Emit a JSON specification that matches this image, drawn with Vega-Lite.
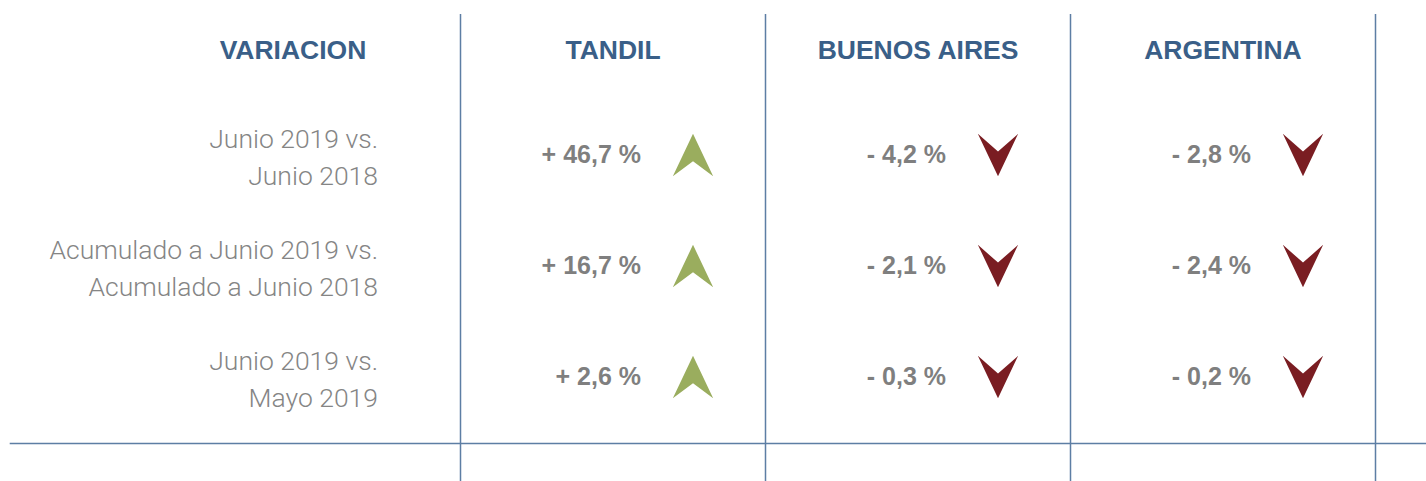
{
  "$schema": "https://vega.github.io/schema/vega-lite/v6.json",
  "width": 1426,
  "height": 481,
  "autosize": "none",
  "padding": 0,
  "background": "white",
  "config": {"view": {"stroke": null}},
  "datasets": {
    "encabezados": [
      {"col": 0, "fila": 0, "texto": "VARIACION"},
      {"col": 1, "fila": 0, "texto": "TANDIL"},
      {"col": 2, "fila": 0, "texto": "BUENOS AIRES"},
      {"col": 3, "fila": 0, "texto": "ARGENTINA"}
    ],
    "etiquetas": [
      {"col": 0, "fila": 1, "texto": "Junio 2019 vs.\nJunio 2018"},
      {"col": 0, "fila": 2, "texto": "Acumulado a Junio 2019 vs.\nAcumulado a Junio 2018"},
      {"col": 0, "fila": 3, "texto": "Junio 2019 vs.\nMayo 2019"}
    ],
    "valores": [
      {"col": 1, "fila": 1, "valor": 46.7, "texto": "+ 46,7 %", "tendencia": "sube"},
      {"col": 2, "fila": 1, "valor": -4.2, "texto": "- 4,2 %", "tendencia": "baja"},
      {"col": 3, "fila": 1, "valor": -2.8, "texto": "- 2,8 %", "tendencia": "baja"},
      {"col": 1, "fila": 2, "valor": 16.7, "texto": "+ 16,7 %", "tendencia": "sube"},
      {"col": 2, "fila": 2, "valor": -2.1, "texto": "- 2,1 %", "tendencia": "baja"},
      {"col": 3, "fila": 2, "valor": -2.4, "texto": "- 2,4 %", "tendencia": "baja"},
      {"col": 1, "fila": 3, "valor": 2.6, "texto": "+ 2,6 %", "tendencia": "sube"},
      {"col": 2, "fila": 3, "valor": -0.3, "texto": "- 0,3 %", "tendencia": "baja"},
      {"col": 3, "fila": 3, "valor": -0.2, "texto": "- 0,2 %", "tendencia": "baja"}
    ],
    "divisores": [
      {"limite": 0.5}, {"limite": 1.5}, {"limite": 2.5}, {"limite": 3.5}
    ]
  },
  "layer": [
    {
      "data": {"name": "divisores"},
      "mark": {"type": "rule", "color": "#5d7ea4", "strokeWidth": 1.5},
      "encoding": {
        "x": {"field": "limite", "type": "quantitative", "scale": {"domain": [0, 3], "range": [308, 1223]}, "axis": null},
        "y": {"datum": -0.27, "type": "quantitative", "scale": {"domain": [1, 3], "range": [155, 377]}, "axis": null},
        "y2": {"datum": 3.95}
      }
    },
    {
      "data": {"values": [{"linea": "base"}]},
      "mark": {"type": "rule", "color": "#5d7ea4", "strokeWidth": 1.5},
      "encoding": {
        "x": {"datum": -0.978, "type": "quantitative", "scale": {"domain": [0, 3], "range": [308, 1223]}, "axis": null},
        "x2": {"datum": 3.7},
        "y": {"datum": 3.6, "type": "quantitative", "scale": {"domain": [1, 3], "range": [155, 377]}, "axis": null}
      }
    },
    {
      "data": {"name": "encabezados"},
      "transform": [{"filter": "datum.col > 0"}],
      "mark": {"type": "text", "font": "Liberation Sans", "fontWeight": "bold", "fontSize": 26.5, "color": "#3a5f88", "align": "center", "baseline": "middle", "dy": 7},
      "encoding": {
        "x": {"field": "col", "type": "quantitative", "scale": {"domain": [0, 3], "range": [308, 1223]}, "axis": null},
        "y": {"field": "fila", "type": "quantitative", "scale": {"domain": [1, 3], "range": [155, 377]}, "axis": null},
        "text": {"field": "texto"}
      }
    },
    {
      "data": {"name": "encabezados"},
      "transform": [{"filter": "datum.col === 0"}],
      "mark": {"type": "text", "font": "Liberation Sans", "fontWeight": "bold", "fontSize": 26.5, "color": "#3a5f88", "align": "center", "baseline": "middle", "dy": 7, "dx": -15},
      "encoding": {
        "x": {"field": "col", "type": "quantitative", "scale": {"domain": [0, 3], "range": [308, 1223]}, "axis": null},
        "y": {"field": "fila", "type": "quantitative", "scale": {"domain": [1, 3], "range": [155, 377]}, "axis": null},
        "text": {"field": "texto"}
      }
    },
    {
      "data": {"name": "etiquetas"},
      "mark": {"type": "text", "font": "Roboto", "fontWeight": 300, "fontSize": 26.5, "color": "#858585", "align": "right", "baseline": "middle", "lineBreak": "\n", "lineHeight": 37, "dx": 70, "dy": -15},
      "encoding": {
        "x": {"field": "col", "type": "quantitative", "scale": {"domain": [0, 3], "range": [308, 1223]}, "axis": null},
        "y": {"field": "fila", "type": "quantitative", "scale": {"domain": [1, 3], "range": [155, 377]}, "axis": null},
        "text": {"field": "texto"}
      }
    },
    {
      "data": {"name": "valores"},
      "mark": {"type": "text", "font": "Liberation Sans", "fontWeight": "bold", "fontSize": 25, "letterSpacing": 1.6, "color": "#7f7f7f", "align": "right", "baseline": "middle", "dx": 28},
      "encoding": {
        "x": {"field": "col", "type": "quantitative", "scale": {"domain": [0, 3], "range": [308, 1223]}, "axis": null},
        "y": {"field": "fila", "type": "quantitative", "scale": {"domain": [1, 3], "range": [155, 377]}, "axis": null},
        "text": {"field": "texto"}
      }
    },
    {
      "data": {"name": "valores"},
      "mark": {"type": "point", "filled": true, "opacity": 1, "size": 1800, "xOffset": 80},
      "encoding": {
        "x": {"field": "col", "type": "quantitative", "scale": {"domain": [0, 3], "range": [308, 1223]}, "axis": null},
        "y": {"field": "fila", "type": "quantitative", "scale": {"domain": [1, 3], "range": [155, 377]}, "axis": null},
        "shape": {"field": "tendencia", "type": "nominal", "scale": {"domain": ["sube", "baja"], "range": ["M0,-1L0.95,1L0,0.29L-0.95,1Z", "M-0.95,-1L0,-0.16L0.95,-1L0,1Z"]}, "legend": null},
        "color": {"field": "tendencia", "type": "nominal", "scale": {"domain": ["sube", "baja"], "range": ["#9aad5e", "#7a1d22"]}, "legend": null}
      }
    }
  ]
}
